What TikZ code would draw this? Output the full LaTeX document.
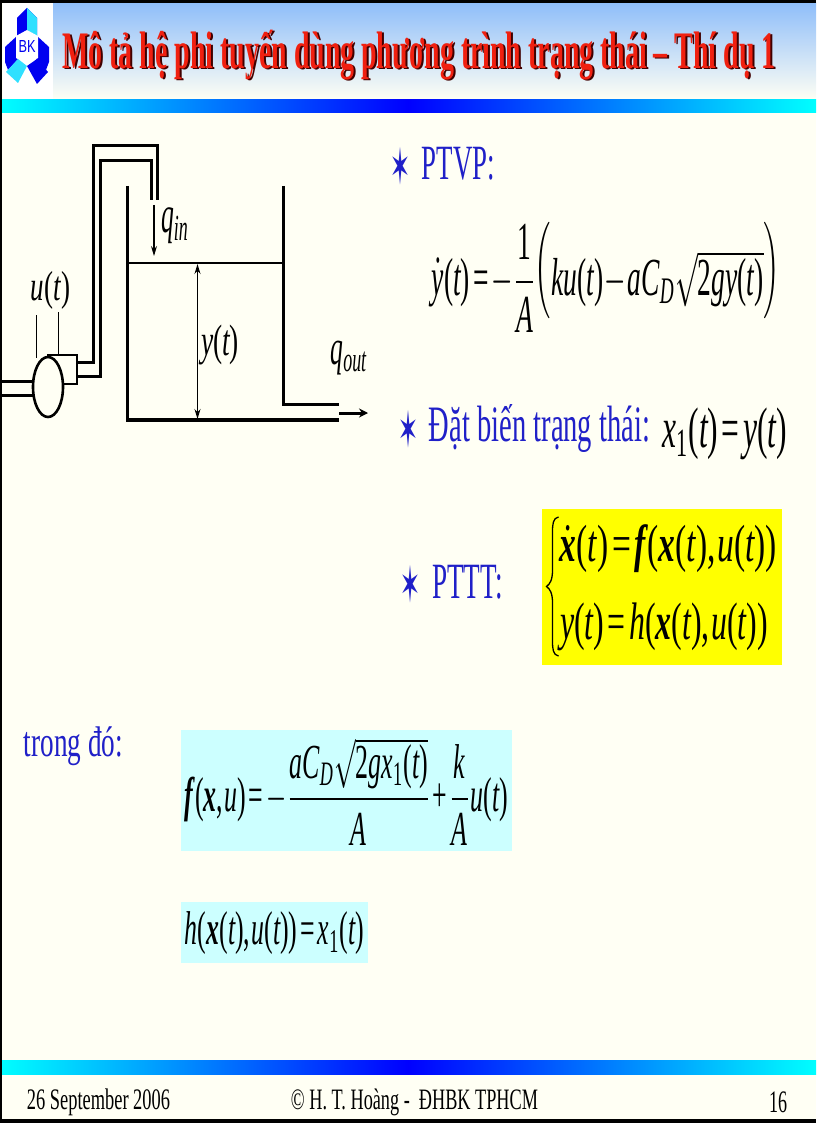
\documentclass[tikz,border=0pt]{standalone}
\usepackage{amsmath,amssymb,graphicx}
\usepackage[no-math]{fontspec}
\setmainfont{Liberation Serif}
\setsansfont{Liberation Sans}
\newfontfamily\starfont{DejaVu Sans}
\usetikzlibrary{arrows.meta,shadings,shapes.geometric}
\DeclareSymbolFont{cmrm}{OT1}{cmr}{m}{n}
\DeclareSymbolFont{operators}{TU}{\rmdefault}{m}{n}
\DeclareSymbolFont{letters}{TU}{\rmdefault}{m}{it}
\DeclareMathAlphabet{\mbi}{TU}{\rmdefault}{b}{it}
\DeclareMathAccent{\dot}{\mathalpha}{cmrm}{"5F}
\DeclareMathSymbol{,}{\mathpunct}{operators}{44}
\thinmuskip=1mu
\medmuskip=1mu
\thickmuskip=2mu
\definecolor{paper}{HTML}{FFFFF4}
\definecolor{bandtop}{HTML}{8FBEFA}
\definecolor{txtblue}{HTML}{2020C8}
\definecolor{tred}{HTML}{F02010}
\definecolor{tshadow}{HTML}{400000}
\definecolor{paleblue}{HTML}{CCFFFF}
\definecolor{logoblue}{HTML}{0000F0}
\definecolor{logocyan}{HTML}{30E0FF}
\definecolor{boxyellow}{RGB}{255,255,0}
\definecolor{barcyan}{RGB}{0,255,255}
\definecolor{barblue}{RGB}{0,0,255}
\newcommand{\fit}[3]{\resizebox*{#1pt}{#2pt}{#3}}
\newcommand{\bigopen}{\mathopen{\raisebox{2.2pt}{$\Big($}}}
\newcommand{\bigclose}{\mathclose{\raisebox{2.2pt}{$\Big)$}}}
\tikzset{
  txt/.style={inner sep=0pt,outer sep=0pt,anchor=center},
  wall/.style={draw=black,line width=2.2pt},
  thick wall/.style={draw=black,line width=3.4pt},
  pipe/.style={draw=black,line width=3pt},
  thin lead/.style={draw=black,line width=1pt},
  dim/.style={draw=black,line width=1.1pt,-{Stealth[length=10pt,width=6pt]}},
  dimb/.style={draw=black,line width=1.1pt,{Stealth[length=10pt,width=6pt]}-{Stealth[length=10pt,width=6pt]}},
}
\begin{document}
\begin{tikzpicture}[x=1pt,y=-1pt]
\useasboundingbox (0,0) rectangle (816,1123);
% page
\fill[paper] (0,0) rectangle (816,1123);
\fill[white] (3,3) rectangle (53,100);
\shade[top color=bandtop,bottom color=paper] (53,3) rectangle (816,100);
\shade[left color=barcyan,right color=barblue] (0,100) rectangle (408,113);
\shade[left color=barblue,right color=barcyan] (408,100) rectangle (816,113);
\shade[left color=barcyan,right color=barblue] (0,1060) rectangle (408,1074);
\shade[left color=barblue,right color=barcyan] (408,1060) rectangle (816,1074);
\fill[black] (0,0) rectangle (816,3);
\fill[black] (0,0) rectangle (2,1123);
\fill[black] (0,1119) rectangle (816,1123);
% logo
\fill[logoblue] (27,8) -- (37,18) -- (37,40) -- (27,40) -- (17,40) -- (17,18) -- cycle;
\fill[logocyan] (27,8) -- (37,18) -- (37,36) -- (27,30) -- cycle;
\fill[logoblue] (5,47) -- (17,36) -- (19,37) -- (19,58) -- (8,70) -- (5,62) -- cycle;
\fill[logoblue] (49,47) -- (37,36) -- (35,37) -- (35,58) -- (46,70) -- (49,62) -- cycle;
\fill[white] (27,30) -- (38,36) -- (38,58) -- (27,64) -- (16,58) -- (16,36) -- cycle;
\fill[logocyan] (6,72) -- (18,59) -- (27,66) -- (18,83) -- cycle;
\fill[logoblue] (27,66) -- (37,59) -- (48,72) -- (37,84) -- cycle;
\node[txt,text=logoblue] (logotext) at (27,47) {\fit{17}{12}{\sffamily BK}};
% title
\node[txt,text=tshadow] (titleshadow) at (421,56.5) {\fit{713}{50}{\bfseries Mô tả hệ phi tuyến dùng phương trình trạng thái – Thí dụ 1}};
\node[txt,text=tred] (title) at (419,55) {\fit{713}{50}{\bfseries Mô tả hệ phi tuyến dùng phương trình trạng thái – Thí dụ 1}};
% tank
\draw[wall] (127.5,186) -- (127.5,421);
\draw[wall] (283.5,186) -- (283.5,404.5) ;
\draw[thick wall] (282.4,404.5) -- (339,404.5);
\draw[thick wall] (126.4,420) -- (339,420);
\draw[wall] (127.5,263) -- (283.5,263);
% pipes
\draw[pipe] (77,362) -- (93,362) -- (93,146) -- (157,146) -- (157,200);
\draw[pipe] (77,376) -- (100.7,376) -- (100.7,161) -- (151,161) -- (151,200);
\draw[pipe] (0,381) -- (34,381);
\draw[pipe] (0,395) -- (34,395);
% pump
\draw[wall] (47,355) -- (77,355) -- (77,384) -- (63,384);
\node[ellipse,draw=black,line width=2.6pt,fill=paper,minimum width=30pt,minimum height=60pt,inner sep=0pt] (pump) at (48,387) {};
\coordinate (lead1) at (36,315);
\coordinate (lead2) at (58,312);
\coordinate (lead1b) at (36,358);
\coordinate (lead2b) at (58,355);
\draw[thin lead] (lead1) -- (lead1b);
\draw[thin lead] (lead2) -- (lead2b);
% arrows
\coordinate (qina) at (154,205);
\coordinate (qinb) at (154,256);
\draw[dim] (qina) -- (qinb);
\coordinate (ya) at (197.5,264);
\coordinate (yb) at (197.5,419);
\draw[dimb] (ya) -- (yb);
\coordinate (qa) at (339,413);
\coordinate (qb) at (368,413);
\draw[line width=3pt,-{Stealth[length=9pt,width=9pt]}] (qa) -- (qb);
% diagram labels
\node[txt] (ut) at (50.5,290) {\fit{39}{38}{$u(t)$}};
\node[txt] (qin) at (175,226) {\fit{28}{36}{$q_{in}$}};
\node[txt] (yt) at (220,345) {\fit{38}{40}{$y(t)$}};
\node[txt] (qout) at (349,358) {\fit{37}{34}{$q_{out}$}};
% bullets
\node[txt,text=txtblue] (s1) at (400.5,166) {\fit{20}{38}{\starfont ✶}};
\node[txt,text=txtblue] (s2) at (408,429.5) {\fit{20}{38}{\starfont ✶}};
\node[txt,text=txtblue] (s3) at (410,584) {\fit{20}{38}{\starfont ✶}};
\node[txt,text=txtblue] (ptvp) at (458.5,163.5) {\fit{73}{33}{PTVP:}};
\node[txt,text=txtblue] (dat) at (539.5,429) {\fit{221}{48}{Đặt biến trạng thái:}};
\node[txt,text=txtblue] (pttt) at (467.5,582) {\fit{71}{34}{PTTT:}};
\node[txt,text=txtblue] (trong) at (73.5,746.5) {\fit{99}{39}{trong đó:}};
% equations
\node[txt] (eq1) at (606,277) {\fit{348}{110}{$\dot y(t)=-\dfrac{1}{A}\!\bigopen ku(t)-aC_D\sqrt{2gy(t)}\bigclose$}};
\node[txt] (eq2) at (724.5,434) {\fit{125}{52}{$x_1(t)=y(t)$}};
\fill[boxyellow] (542,509) rectangle (782,665);
\fill[paleblue] (181,730) rectangle (512,851);
\fill[paleblue] (181,902) rectangle (368,963);
\draw[line width=1.3pt] (558.5,517) .. controls (553,518) and (552.5,524) .. (552.5,532) -- (552.5,570) .. controls (552.5,580) and (550,584) .. (546.5,586.5) .. controls (550,589) and (552.5,593) .. (552.5,603) -- (552.5,641) .. controls (552.5,649) and (553,655) .. (558.5,656);
\node[txt] (eq3a) at (668.5,549) {\fit{217}{48}{$\dot{\mbi{x}}(t)=\mbi{f}\,(\mbi{x}(t),u(t))$}};
\node[txt] (eq3b) at (664,627) {\fit{208}{48}{$y(t)=h(\mbi{x}(t),u(t))$}};
\node[txt] (eq4) at (346.5,791.5) {\fit{323}{107}{$\mbi{f}\,(\mbi{x},u)=-\dfrac{aC_D\sqrt{2gx_1(t)}}{A}+\dfrac{k}{A}u(t)$}};
\node[txt] (eq5) at (274.5,933.5) {\fit{179}{43}{$h(\mbi{x}(t),u(t))=x_1(t)$}};
% footer
\node[txt] (fdate) at (98.5,1102.5) {\fit{143}{27}{26 September 2006}};
\node[txt] (fauth) at (414.5,1102.5) {\fit{247}{27}{© H. T. Hoàng -\ \ ĐHBK TPHCM}};
\node[txt] (fnum) at (778,1102) {\fit{18}{21}{16}};
\end{tikzpicture}
\end{document}
